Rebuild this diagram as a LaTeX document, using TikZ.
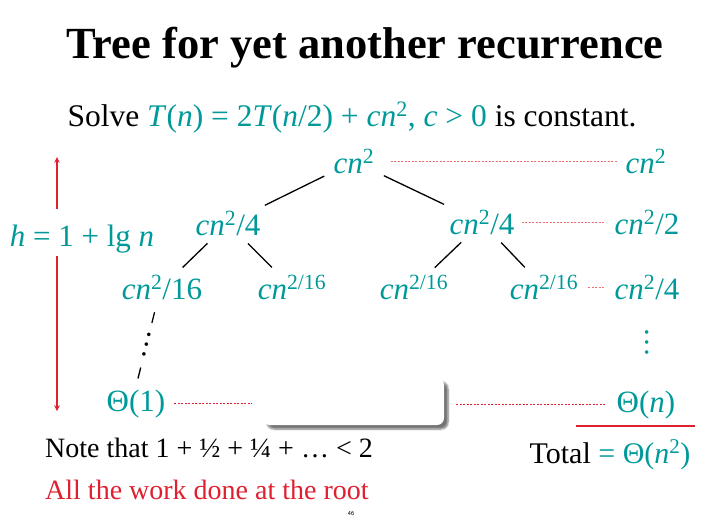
\documentclass[tikz,border=0pt]{standalone}
\usepackage{fontspec}
\setmainfont{Liberation Serif}
\usetikzlibrary{shadows.blur}

\definecolor{mathteal}{RGB}{0,153,153}
\definecolor{slidered}{RGB}{222,32,48}
\definecolor{dotred}{RGB}{236,110,110}

\newcommand{\mth}[1]{\textcolor{mathteal}{#1}}
\newcommand{\cnsq}{\textit{cn}\textsuperscript{2}}

\begin{document}
\begin{tikzpicture}[x=1pt,y=-1pt,
  lbl/.style={text=mathteal, font=\fontsize{31}{36}\selectfont, inner sep=3pt, anchor=base},
  txt/.style={font=\fontsize{30}{36}\selectfont, anchor=base},
  edge/.style={black, line width=1.3pt, shorten <=7pt, shorten >=7pt},
  sumline/.style={dotred, line width=1pt, dash pattern=on 2pt off 1.5pt, shorten <=6pt, shorten >=6pt},
  harrow/.style={-stealth, slidered, line width=1.5pt}]
  \useasboundingbox (0,0) rectangle (718,517);

  % heading
  \node[anchor=base, font=\bfseries\fontsize{44.5}{50}\selectfont] (title) at (365,58) {Tree for yet another recurrence};
  \node[txt, font=\fontsize{31.5}{36}\selectfont] (solve) at (352,126) {Solve \mth{\textit{T}(\textit{n}) = 2\textit{T}(\textit{n}/2) + \cnsq, \textit{c} > 0} is constant.};

  % the tree
  \node[lbl] (root) at (354,173) {\cnsq};
  \node[lbl] (l1) at (228,235) {\cnsq/4};
  \node[lbl] (r1) at (482,234) {\cnsq/4};
  \node[lbl] (ll) at (162,299) {\cnsq/16};
  \node[lbl] (lr) at (292,299) {\textit{cn}\textsuperscript{2/16}};
  \node[lbl] (rl) at (414,299) {\textit{cn}\textsuperscript{2/16}};
  \node[lbl] (rr) at (544,299) {\textit{cn}\textsuperscript{2/16}};
  \node[lbl] (t1) at (136,411) {Θ(1)};

  \draw[edge] (root) -- (l1);
  \draw[edge] (root) -- (r1);
  \draw[edge] (l1) -- (ll);
  \draw[edge] (l1) -- (lr);
  \draw[edge] (r1) -- (rl);
  \draw[edge] (r1) -- (rr);
  \draw[edge, shorten <=10pt, shorten >=8pt, dash pattern=on 11pt off 46pt on 12pt]
    ([xshift=-5pt]ll.south) -- (t1.north);
  \path ([xshift=-5pt]ll.south) -- (t1.north) node[midway, sloped, inner sep=0, font=\fontsize{30}{36}\selectfont] (dd) {…};

  % level sums
  \node[lbl] (s0) at (646,173) {\cnsq};
  \node[lbl] (s1) at (647,234) {\cnsq/2};
  \node[lbl] (s2) at (647,299) {\cnsq/4};
  \node[text=mathteal, font=\fontsize{30}{36}\selectfont, inner sep=0, rotate=90] (vd) at (647,342) {…};
  \node[lbl] (tn) at (646,412) {Θ(\textit{n})};

  \node[fill=white, rounded corners=7pt, minimum width=181pt, minimum height=47pt, inner sep=0,
    blur shadow={shadow xshift=4pt, shadow yshift=-4pt, shadow blur steps=6, shadow opacity=55}] (cover) at (353.5,401.5) {};

  \draw[sumline, shorten <=13pt] (root) -- (s0);
  \draw[sumline, shorten <=4pt, shorten >=7pt] (r1) -- (s1);
  \draw[sumline, shorten <=7pt, shorten >=7pt] (rr) -- (rr -| s2.west);
  \draw[sumline, slidered, line width=0.7pt, shorten >=11pt] (t1) -- (t1 -| cover.west);
  \draw[sumline, slidered, line width=0.7pt, shorten <=12pt, shorten >=7pt] (cover.east |- tn) -- (tn);

  % height of the tree
  \node[lbl] (hlbl) at (82,246) {\textit{h} = 1 + lg \textit{n}};
  \coordinate (htop) at (57,157);
  \coordinate (hbot) at (57,411);
  \draw[harrow, shorten <=12pt] (htop |- hlbl.north) -- (htop);
  \draw[harrow] (hbot |- hlbl.south) -- (hbot);

  % totals
  \draw[slidered, line width=2.5pt] (576,426) -- (695,426);
  \node[txt] (total) at (610,463) {Total \mth{= Θ(\textit{n}\textsuperscript{2})}};
  \node[txt, anchor=base west, inner sep=0, font=\fontsize{28}{32}\selectfont] (note) at (45,457) {Note that 1 + ½ + ¼ + … < 2};
  \node[txt, anchor=base west, inner sep=0, text=slidered, font=\fontsize{28}{32}\selectfont] (work) at (45,499) {All the work done at the root};
  \node[anchor=base, font=\sffamily\fontsize{6}{7}\selectfont] (pg) at (351,515) {46};
\end{tikzpicture}
\end{document}
